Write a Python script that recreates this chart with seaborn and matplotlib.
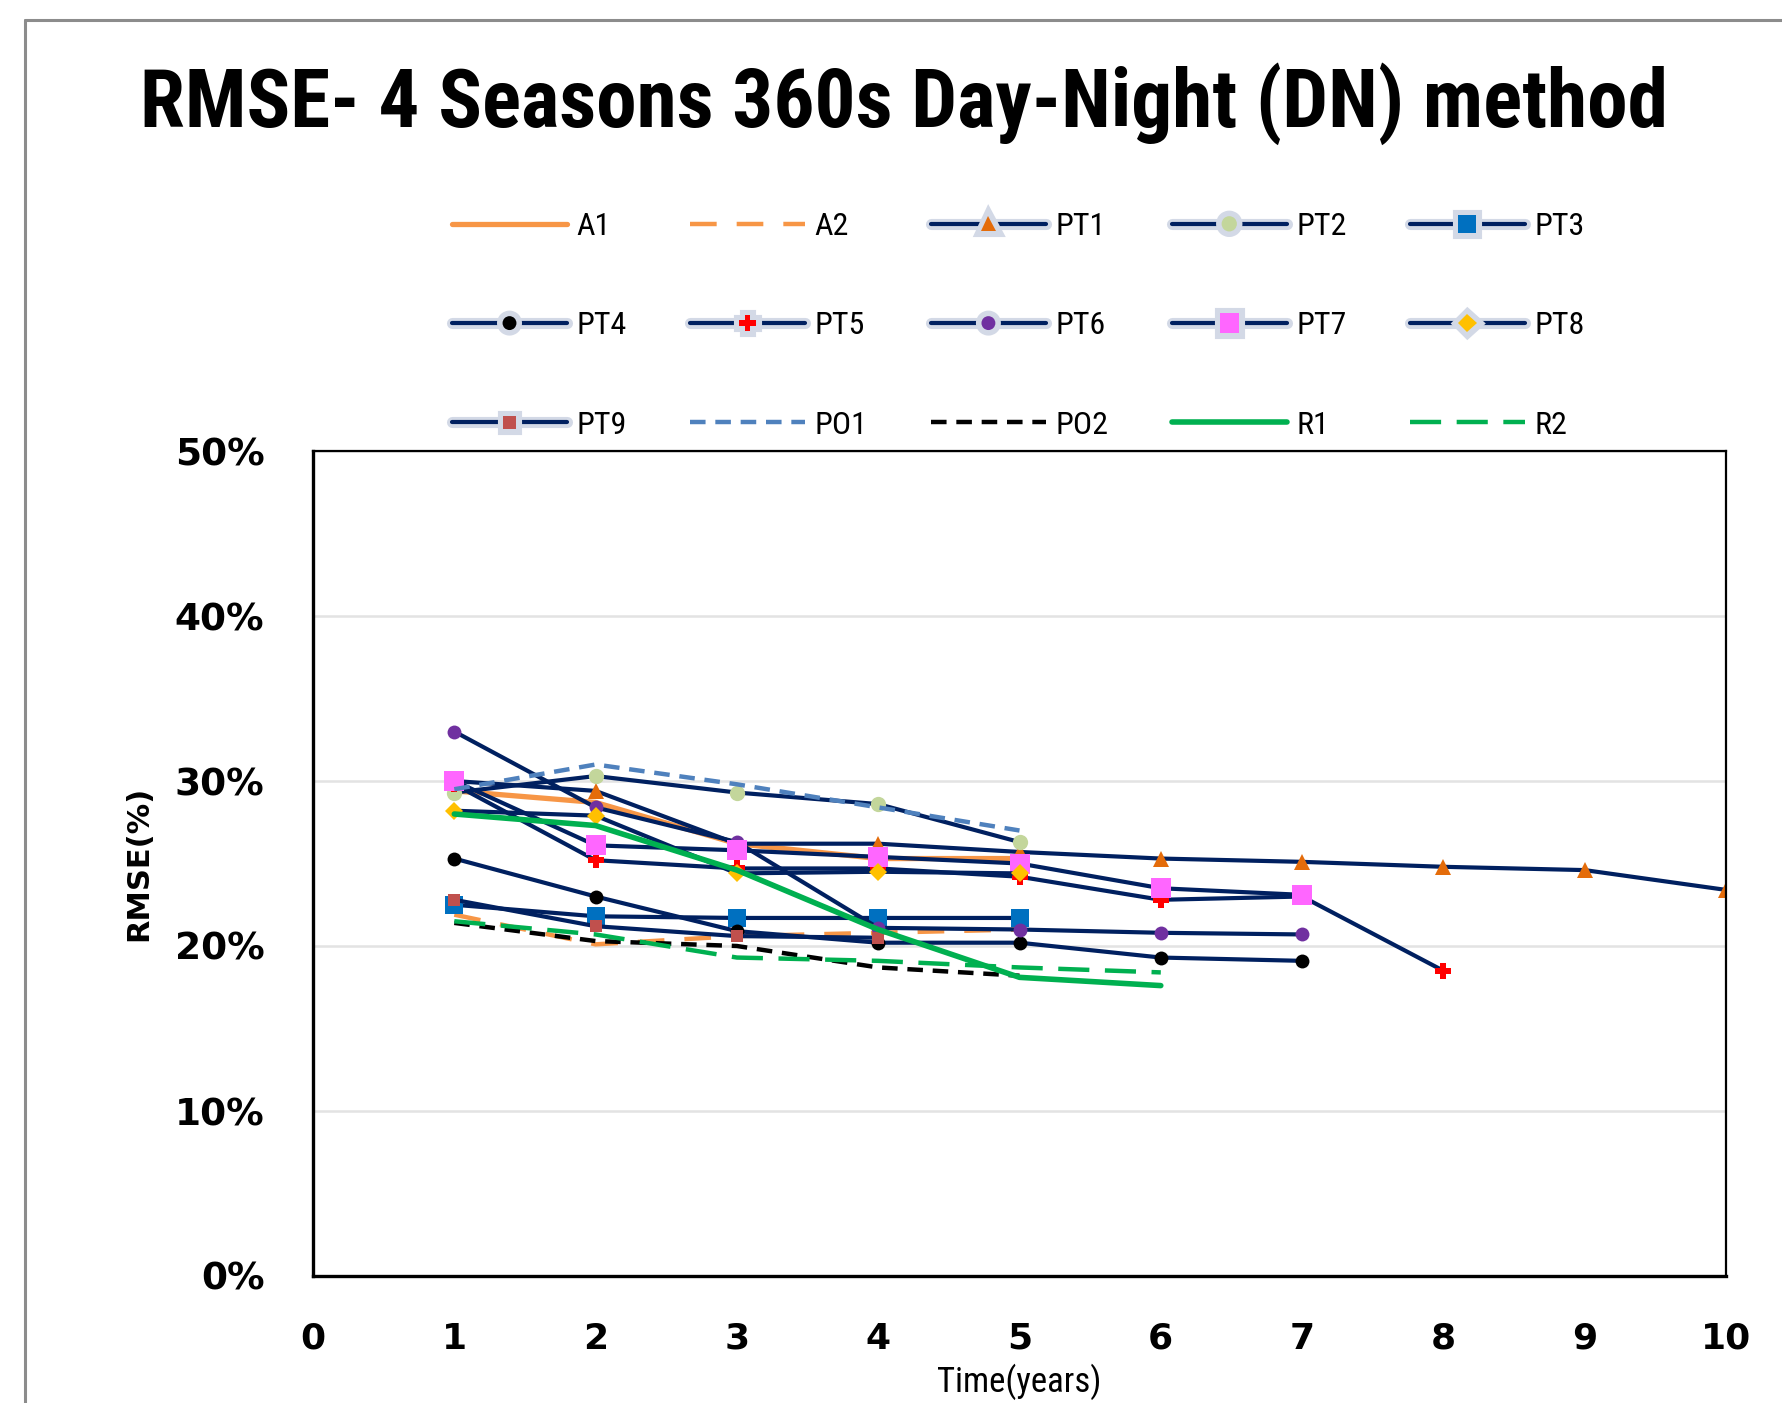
import numpy as np
import pandas as pd
import matplotlib
matplotlib.use("Agg")
import matplotlib.pyplot as plt
import matplotlib.patheffects as pe
from matplotlib.lines import Line2D
from matplotlib.ticker import MultipleLocator, PercentFormatter
from matplotlib import font_manager
import seaborn as sns

# RMSE (%), one list per series, x = years 1..n
A1 = [29.4, 28.7, 26.2, 25.3, 25.3]
A2 = [21.9, 20.1, 20.6, 20.8, 21.0]
PT1 = [30.0, 29.4, 26.2, 26.2, 25.7, 25.3, 25.1, 24.8, 24.6, 23.4]
PT2 = [29.3, 30.3, 29.3, 28.6, 26.3]
PT3 = [22.5, 21.8, 21.7, 21.7, 21.7]
PT4 = [25.3, 23.0, 20.9, 20.2, 20.2, 19.3, 19.1]
PT5 = [29.8, 25.2, 24.7, 24.7, 24.2, 22.8, 23.0, 18.5]
PT6 = [33.0, 28.4, 26.3, 21.1, 21.0, 20.8, 20.7]
PT7 = [30.0, 26.1, 25.8, 25.4, 25.0, 23.5, 23.1]
PT8 = [28.2, 27.9, 24.4, 24.5, 24.4]
PT9 = [22.8, 21.2, 20.6, 20.5]
PO1 = [29.5, 31.0, 29.8, 28.4, 27.0]
PO2 = [21.4, 20.3, 20.0, 18.7, 18.2]
R1 = [28.0, 27.3, 24.6, 21.0, 18.1, 17.6]
R2 = [21.5, 20.7, 19.3, 19.1, 18.7, 18.4]

series_names = ["A1", "A2", "PT1", "PT2", "PT3", "PT4", "PT5", "PT6", "PT7", "PT8",
                "PT9", "PO1", "PO2", "R1", "R2"]
series_vals = [A1, A2, PT1, PT2, PT3, PT4, PT5, PT6, PT7, PT8, PT9, PO1, PO2, R1, R2]

sns.set_style("white")
have = {f.name for f in font_manager.fontManager.ttflist}
narrow = next((f for f in ["Liberation Sans Narrow", "DejaVu Sans Condensed",
                           "Roboto Condensed", "Open Sans"] if f in have), "DejaVu Sans")
plt.rcParams["font.family"] = ["DejaVu Sans"]
plt.rcParams["text.color"] = "black"
plt.rcParams["axes.labelcolor"] = "black"
plt.rcParams["xtick.color"] = "black"
plt.rcParams["ytick.color"] = "black"

navy = "#002060"
styles = {
    "A1": dict(color="#F79646", lw=3.8),
    "A2": dict(color="#F79646", lw=3.2, dashes=(6, 4.5)),
    "PT1": dict(color=navy, lw=3, marker="^", ms=11, mfc="#E46C0A", mec="#E46C0A"),
    "PT2": dict(color=navy, lw=3, marker="o", ms=11, mfc="#C3D69B", mec="#C3D69B"),
    "PT3": dict(color=navy, lw=3, marker="s", ms=13, mfc="#0070C0", mec="#0070C0"),
    "PT4": dict(color=navy, lw=3, marker="o", ms=10, mfc="black", mec="black"),
    "PT5": dict(color=navy, lw=3, marker="P", ms=12, mfc="#FF0000", mec="#FF0000"),
    "PT6": dict(color=navy, lw=3, marker="o", ms=10, mfc="#7030A0", mec="#7030A0"),
    "PT7": dict(color=navy, lw=3, marker="s", ms=14, mfc="#FF66FF", mec="#FF66FF"),
    "PT8": dict(color=navy, lw=3, marker="D", ms=9.5, mfc="#FFC000", mec="#FFC000"),
    "PT9": dict(color=navy, lw=3, marker="s", ms=9, mfc="#C0504D", mec="#C0504D"),
    "PO1": dict(color="#4F81BD", lw=3.2, dashes=(3.5, 2.2)),
    "PO2": dict(color="black", lw=3.2, dashes=(3.5, 2.2)),
    "R1": dict(color="#00B050", lw=4),
    "R2": dict(color="#00B050", lw=3.2, dashes=(7, 3.5)),
}

fig = plt.figure(figsize=(17.82, 14.03), dpi=100)
ax = fig.add_axes([313 / 1782, 127 / 1403, 1413 / 1782, 825 / 1403])

for name, vals in zip(series_names, series_vals):
    df = pd.DataFrame({"year": np.arange(1, len(vals) + 1), "rmse": vals})
    sns.lineplot(data=df, x="year", y="rmse", ax=ax, label=name,
                 markeredgewidth=0, **styles[name])

if ax.get_legend() is not None:
    ax.get_legend().remove()

ax.set_xlim(0, 10)
ax.set_ylim(0, 50)
ax.xaxis.set_major_locator(MultipleLocator(1))
ax.xaxis.set_minor_locator(MultipleLocator(0.5))
ax.yaxis.set_major_locator(MultipleLocator(10))
ax.yaxis.set_minor_locator(MultipleLocator(5))
ax.yaxis.set_major_formatter(PercentFormatter(xmax=100, decimals=0))
ax.grid(axis="y", which="major", color="#e3e3e3", lw=1.8)
ax.set_axisbelow(True)

for s in ["left", "bottom"]:
    ax.spines[s].set_linewidth(2.4)
    ax.spines[s].set_color("black")
for s in ["top", "right"]:
    ax.spines[s].set_linewidth(1.6)
    ax.spines[s].set_color("black")

ax.tick_params(axis="both", which="major", direction="out", length=13, width=1.6,
               labelsize=27, colors="black")
ax.tick_params(axis="both", which="minor", direction="out", length=9.5, width=1.6)
ax.tick_params(axis="x", which="major", labelsize=26, pad=20)
ax.tick_params(axis="y", which="major", pad=22)
for lab in ax.get_xticklabels() + ax.get_yticklabels():
    lab.set_fontweight("bold")

ax.set_xlabel("Time(years)", fontsize=25, family=[narrow, "DejaVu Sans"])
ax.xaxis.set_label_coords(0.5, -0.106)
ax.set_ylabel("RMSE(%)", fontsize=22, fontweight="bold")
ax.yaxis.set_label_coords(-0.113, 0.5)

fig.text(0.507, 1 - 104 / 1403, "RMSE- 4 Seasons 360s Day-Night (DN) method",
         ha="center", va="center", fontsize=58.5, fontweight="bold",
         color="black", family=[narrow, "DejaVu Sans"])

handles, labels = ax.get_legend_handles_labels()
order = [r * 5 + c for c in range(5) for r in range(3)]
leg = fig.legend([handles[i] for i in order], [labels[i] for i in order],
                 ncol=5, loc="upper left", bbox_to_anchor=(452 / 1782, 1 - 212 / 1403),
                 frameon=False, borderpad=0, borderaxespad=0,
                 handlelength=3.6, handletextpad=0.3, columnspacing=1.98,
                 labelspacing=2.2, prop={"family": [narrow, "DejaVu Sans"], "size": 23})
# light band behind the navy legend lines, as in the original
for line, lab in zip(leg.get_lines(), [labels[i] for i in order]):
    if lab.startswith("PT"):
        line.set_path_effects([pe.Stroke(linewidth=8, foreground="#d3d9e6"), pe.Normal()])

# grey chart-area border (left and top edges visible in the crop)
fig.add_artist(Line2D([25 / 1782, 25 / 1782], [0, 1 - 20 / 1403],
                      transform=fig.transFigure, color="#8c8c8c", lw=2.2))
fig.add_artist(Line2D([25 / 1782, 1], [1 - 20 / 1403, 1 - 20 / 1403],
                      transform=fig.transFigure, color="#8c8c8c", lw=2.2))

fig.savefig("out.png", dpi=100)
